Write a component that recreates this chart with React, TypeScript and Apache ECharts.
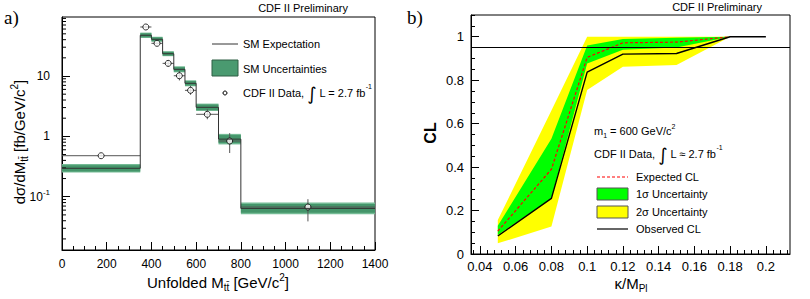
import React, { useEffect, useRef } from 'react';
import * as echarts from 'echarts';

// ---------- Panel a: unfolded M_tt spectrum ----------
const binLo = [0, 350, 400, 450, 500, 550, 600, 700, 800];
const binHi = [350, 400, 450, 500, 550, 600, 700, 800, 1400];
const smExpectation = [0.296, 47.3, 40.6, 23.4, 12.9, 7.57, 3.03, 0.9, 0.064];
const smOuterLo = [0.252, 42.7, 36.9, 21.3, 11.5, 6.75, 2.63, 0.735, 0.051];
const smOuterHi = [0.347, 52.4, 44.7, 25.7, 14.5, 8.5, 3.49, 1.1, 0.08];
const smInnerLo = [0.263, 43.8, 37.8, 21.8, 11.9, 6.96, 2.72, 0.773, 0.054];
const smInnerHi = [0.333, 51.0, 43.6, 25.2, 14.0, 8.24, 3.37, 1.05, 0.076];
const dataX = [175, 375, 425, 475, 525, 575, 650, 750, 1100];
const dataY = [0.478, 64.9, 34.8, 16.2, 10.1, 5.79, 2.32, 0.838, 0.0675];
const dataErrLo = [0.46, 62, 33.5, 14.3, 8.45, 4.88, 1.92, 0.53, 0.039];
const dataErrHi = [0.5, 68, 36.3, 18.4, 12.1, 6.87, 2.81, 1.13, 0.091];

// ---------- Panel b: CL vs kappa/M_Pl ----------
const kappa = [0.05, 0.08, 0.1, 0.12, 0.15, 0.18];
const kappaObs = [0.05, 0.08, 0.1, 0.12, 0.15, 0.18, 0.2];
const observedCL = [0.083, 0.256, 0.837, 0.92, 0.923, 1.0, 1.0];
const expectedCL = [0.105, 0.39, 0.905, 0.972, 0.975, 1.0];
const sigma1Lo = [0.088, 0.256, 0.877, 0.94, 0.95, 1.0];
const sigma1Hi = [0.13, 0.53, 0.96, 0.99, 0.995, 1.0];
const sigma2Lo = [0.049, 0.126, 0.755, 0.862, 0.87, 1.0];
const sigma2Hi = [0.156, 0.66, 1.0, 1.0, 1.0, 1.0];
const clLimit = 0.95;

// tick labels
const kappaTicks = [0.04, 0.06, 0.08, 0.1, 0.12, 0.14, 0.16, 0.18, 0.2];
const clTicks = [0, 0.2, 0.4, 0.6, 0.8, 1.0];

const kappaMinor: number[] = [];
for (let i = 9; i <= 53; i++) if (i % 5 !== 0) kappaMinor.push(+(i * 0.004).toFixed(3));
const clMinor: number[] = [];
for (let i = 1; i <= 22; i++) if (i % 4 !== 0) clMinor.push(+(i * 0.05).toFixed(2));
const logMinor: number[] = [];
for (let d = -2; d <= 1; d++) for (let m = 2; m <= 9; m++) {
  const v = m * Math.pow(10, d);
  if (v > 0.0131 && v < 95) logMinor.push(v);
}

const FONT = 'Liberation Sans';
const SERIF = 'Liberation Serif';

function buildOption(): any {
  const stepData: number[][] = [];
  binLo.forEach((lo, i) => {
    stepData.push([lo, smExpectation[i]]);
    stepData.push([binHi[i], smExpectation[i]]);
  });

  const bandItem = (color: string) => (params: any, api: any) => {
    const p1 = api.coord([api.value(0), api.value(3)]);
    const p2 = api.coord([api.value(1), api.value(2)]);
    return {
      type: 'rect',
      shape: { x: p1[0], y: p1[1], width: p2[0] - p1[0], height: p2[1] - p1[1] },
      style: { fill: color },
    };
  };

  const polygonItem = (lo: number[], hi: number[], color: string) => (params: any, api: any) => {
    const top = kappa.map((k, i) => api.coord([k, hi[i]]));
    const bot = kappa.map((k, i) => api.coord([k, lo[i]])).reverse();
    return { type: 'polygon', shape: { points: top.concat(bot) }, style: { fill: color } };
  };

  const txt = (x: number, y: number, text: string, opts: any = {}) => ({
    type: 'text',
    x,
    y,
    rotation: opts.rotation || 0,
    style: {
      text,
      fontFamily: FONT,
      fontSize: opts.fontSize || 11,
      fontWeight: opts.fontWeight || 'normal',
      fill: '#000',
      align: opts.align || 'left',
      verticalAlign: 'middle',
      rich: opts.rich,
    },
  });

  const richSet = (size: number, lh: number) => ({
    n: { fontFamily: FONT, fontSize: size, lineHeight: lh, verticalAlign: 'middle' },
    u: { fontFamily: FONT, fontSize: Math.round(size * 0.65), lineHeight: Math.round(size * 0.7), verticalAlign: 'top' },
    d: { fontFamily: FONT, fontSize: Math.round(size * 0.65), lineHeight: Math.round(size * 0.75), verticalAlign: 'bottom' },
    i: { fontFamily: 'DejaVu Sans', fontSize: 18, lineHeight: lh, verticalAlign: 'middle' },
  });

  const axisLine = { show: true, onZero: false, lineStyle: { color: '#000', width: 1 } };
  const tickStyle = { color: '#000', width: 1 };

  return {
    animation: false,
    backgroundColor: '#fff',
    grid: [
      { left: 62, top: 17, width: 313, height: 233, show: true, borderColor: '#000', borderWidth: 1 },
      { left: 471, top: 15, width: 319, height: 239, show: true, borderColor: '#000', borderWidth: 1 },
    ],
    xAxis: [
      {
        gridIndex: 0, type: 'value', min: 0, max: 1400, interval: 200,
        axisLine, axisTick: { inside: true, length: 8, lineStyle: tickStyle },
        minorTick: { show: true, splitNumber: 4, length: 4, lineStyle: tickStyle },
        splitLine: { show: false }, minorSplitLine: { show: false },
        axisLabel: {
          fontFamily: FONT, fontSize: 12, color: '#000', margin: 8,
          formatter: (v: number) => String(v),
        },
      },
      {
        gridIndex: 1, type: 'value', min: 0.035, max: 0.2135,
        axisLine,
        axisTick: { inside: true, length: 8, lineStyle: tickStyle, customValues: kappaTicks },
        splitLine: { show: false },
        axisLabel: {
          customValues: kappaTicks, fontFamily: FONT, fontSize: 13, color: '#000', margin: 6,
          formatter: (v: number) => String(parseFloat(v.toFixed(3))),
        },
      },
      {
        gridIndex: 1, type: 'value', min: 0.035, max: 0.2135, position: 'bottom',
        axisLine: { show: false },
        axisTick: { inside: true, length: 4, lineStyle: tickStyle, customValues: kappaMinor },
        splitLine: { show: false }, axisLabel: { show: false },
      },
    ],
    yAxis: [
      {
        gridIndex: 0, type: 'log', logBase: 10, min: 0.0131, max: 95,
        axisLine, axisTick: { inside: true, length: 8, lineStyle: tickStyle },
        splitLine: { show: false }, minorTick: { show: false },
        axisLabel: {
          fontFamily: FONT, fontSize: 12, color: '#000', margin: 12,
          showMinLabel: false, showMaxLabel: false,
          formatter: (v: number) => {
            const l = Math.log10(v);
            if (Math.abs(l - Math.round(l)) > 1e-6) return '';
            const e = Math.round(l);
            if (e === -1) return '{b|10}{s|-1}';
            if (e === 0) return '{b|1}';
            if (e === 1) return '{b|10}';
            return '';
          },
          rich: {
            b: { fontFamily: FONT, fontSize: 12, lineHeight: 16, verticalAlign: 'middle' },
            s: { fontFamily: FONT, fontSize: 8, lineHeight: 8, verticalAlign: 'top' },
          },
        },
      },
      {
        gridIndex: 1, type: 'value', min: 0, max: 1.1,
        axisLine,
        axisTick: { inside: true, length: 8, lineStyle: tickStyle, customValues: clTicks },
        splitLine: { show: false },
        axisLabel: {
          customValues: clTicks, fontFamily: FONT, fontSize: 13, color: '#000', margin: 7,
          formatter: (v: number) => String(parseFloat(v.toFixed(2))),
        },
      },
      {
        gridIndex: 1, type: 'value', min: 0, max: 1.1, position: 'left',
        axisLine: { show: false },
        axisTick: { inside: true, length: 4, lineStyle: tickStyle, customValues: clMinor },
        splitLine: { show: false }, axisLabel: { show: false },
      },
    ],
    series: [
      {
        type: 'custom', xAxisIndex: 0, yAxisIndex: 0, name: 'SM outer',
        data: binLo.map((lo, i) => [lo, binHi[i], smOuterLo[i], smOuterHi[i]]),
        encode: { x: [0, 1], y: [2, 3] },
        renderItem: bandItem('#74bb95'),
      },
      {
        type: 'custom', xAxisIndex: 0, yAxisIndex: 0, name: 'SM inner',
        data: binLo.map((lo, i) => [lo, binHi[i], smInnerLo[i], smInnerHi[i]]),
        encode: { x: [0, 1], y: [2, 3] },
        renderItem: bandItem('#44956a'),
      },
      {
        type: 'line', xAxisIndex: 0, yAxisIndex: 0, name: 'SM Expectation',
        data: stepData, symbol: 'none',
        lineStyle: { color: '#333', width: 1 },
      },
      {
        type: 'custom', xAxisIndex: 0, yAxisIndex: 0, name: 'errors',
        data: dataX.map((x, i) => [x, dataY[i], binLo[i], binHi[i], dataErrLo[i], dataErrHi[i]]),
        encode: { x: [0, 2, 3], y: [1, 4, 5] },
        renderItem: (params: any, api: any) => {
          const h1 = api.coord([api.value(2), api.value(1)]);
          const h2 = api.coord([api.value(3), api.value(1)]);
          const v1 = api.coord([api.value(0), api.value(4)]);
          const v2 = api.coord([api.value(0), api.value(5)]);
          const st = { stroke: '#555', lineWidth: 1 };
          return {
            type: 'group',
            children: [
              { type: 'line', shape: { x1: h1[0], y1: h1[1], x2: h2[0], y2: h2[1] }, style: st },
              { type: 'line', shape: { x1: v1[0], y1: v1[1], x2: v2[0], y2: v2[1] }, style: st },
            ],
          };
        },
      },
      {
        type: 'scatter', xAxisIndex: 0, yAxisIndex: 0, name: 'CDF II Data',
        data: dataX.map((x, i) => [x, dataY[i]]),
        symbol: 'circle', symbolSize: 6,
        itemStyle: { color: '#fff', borderColor: '#000', borderWidth: 1 },
      },
      {
        type: 'custom', xAxisIndex: 0, yAxisIndex: 0, name: 'log minor ticks',
        data: logMinor.map((v) => [0, v]),
        renderItem: (params: any, api: any) => {
          const p = api.coord([0, api.value(1)]);
          return { type: 'line', shape: { x1: p[0], y1: p[1], x2: p[0] + 4, y2: p[1] }, style: { stroke: '#000', lineWidth: 1 } };
        },
      },
      {
        type: 'custom', xAxisIndex: 1, yAxisIndex: 1, name: '2 sigma',
        data: [[kappa[0], sigma2Lo[0]]],
        renderItem: polygonItem(sigma2Lo, sigma2Hi, '#ffff00'),
      },
      {
        type: 'custom', xAxisIndex: 1, yAxisIndex: 1, name: '1 sigma',
        data: [[kappa[0], sigma1Lo[0]]],
        renderItem: polygonItem(sigma1Lo, sigma1Hi, '#00ff00'),
      },
      {
        type: 'line', xAxisIndex: 1, yAxisIndex: 1, name: 'Expected CL',
        data: kappa.map((k, i) => [k, expectedCL[i]]), symbol: 'none',
        lineStyle: { color: '#ff0000', width: 1.2, type: [3, 2] },
      },
      {
        type: 'line', xAxisIndex: 1, yAxisIndex: 1, name: 'Observed CL',
        data: kappaObs.map((k, i) => [k, observedCL[i]]), symbol: 'none',
        lineStyle: { color: '#000', width: 1.4 },
        markLine: {
          silent: true, symbol: 'none', label: { show: false },
          lineStyle: { color: '#000', width: 1, type: 'solid' },
          data: [{ yAxis: clLimit }],
        },
      },
    ],
    graphic: [
      { type: 'text', x: 4, y: 17, style: { text: 'a)', fontFamily: SERIF, fontSize: 19, fill: '#000', verticalAlign: 'middle' } },
      { type: 'text', x: 407, y: 17, style: { text: 'b)', fontFamily: SERIF, fontSize: 19, fill: '#000', verticalAlign: 'middle' } },
      txt(348, 8, 'CDF II Preliminary', { align: 'right', fontSize: 11 }),
      txt(762, 7, 'CDF II Preliminary', { align: 'right', fontSize: 11 }),
      txt(19, 142, '{n|dσ/dM}{d|tt̄}{n| [fb/GeV/c}{u|2}{n|]}', { align: 'center', rotation: Math.PI / 2, rich: richSet(15, 20) }),
      txt(218, 282, '{n|Unfolded M}{d|tt̄}{n| [GeV/c}{u|2}{n|]}', { align: 'center', rich: richSet(15, 20) }),
      txt(430, 133, 'CL', { align: 'center', rotation: Math.PI / 2, fontSize: 16, fontWeight: 'bold' }),
      txt(631, 283, '{n|κ/M}{d|Pl}', { align: 'center', rich: richSet(15, 20) }),
      // legend a
      { type: 'line', shape: { x1: 212, y1: 44, x2: 238, y2: 44 }, style: { stroke: '#333', lineWidth: 1 } },
      txt(243, 44, 'SM Expectation'),
      { type: 'rect', shape: { x: 212, y: 60, width: 26, height: 16 }, style: { fill: '#4a9a70', stroke: '#2f5e45', lineWidth: 1 } },
      txt(243, 69, 'SM Uncertainties'),
      { type: 'circle', shape: { cx: 225, cy: 93, r: 2 }, style: { fill: '#fff', stroke: '#000', lineWidth: 1 } },
      txt(243, 93, '{n|CDF II Data, }{i|∫}{n| L = 2.7 fb}{u|-1}', { rich: richSet(11, 20) }),
      // legend b
      txt(594, 131, '{n|m}{d|1}{n| = 600 GeV/c}{u|2}', { rich: richSet(11, 16) }),
      txt(594, 154, '{n|CDF II Data, }{i|∫}{n| L ≈ 2.7 fb}{u|-1}', { rich: richSet(11, 20) }),
      { type: 'line', shape: { x1: 597, y1: 177, x2: 628, y2: 177 }, style: { stroke: '#ff0000', lineWidth: 1.2, lineDash: [3, 2] } },
      txt(636, 177, 'Expected CL'),
      { type: 'rect', shape: { x: 597, y: 188, width: 31, height: 12 }, style: { fill: '#00ff00', stroke: '#555', lineWidth: 1 } },
      txt(636, 194, '1σ Uncertainty'),
      { type: 'rect', shape: { x: 597, y: 206, width: 31, height: 12 }, style: { fill: '#ffff00', stroke: '#555', lineWidth: 1 } },
      txt(636, 212, '2σ Uncertainty'),
      { type: 'line', shape: { x1: 597, y1: 229, x2: 628, y2: 229 }, style: { stroke: '#000', lineWidth: 1.2 } },
      txt(636, 229, 'Observed CL'),
    ],
  };
}

export default function App() {
  const ref = useRef<HTMLDivElement>(null);
  useEffect(() => {
    document.body.style.margin = '0';
    const chart = echarts.init(ref.current!, null, { renderer: 'svg' });
    chart.setOption(buildOption());
    return () => chart.dispose();
  }, []);
  return <div ref={ref} style={{ width: 810, height: 299 }} />;
}
